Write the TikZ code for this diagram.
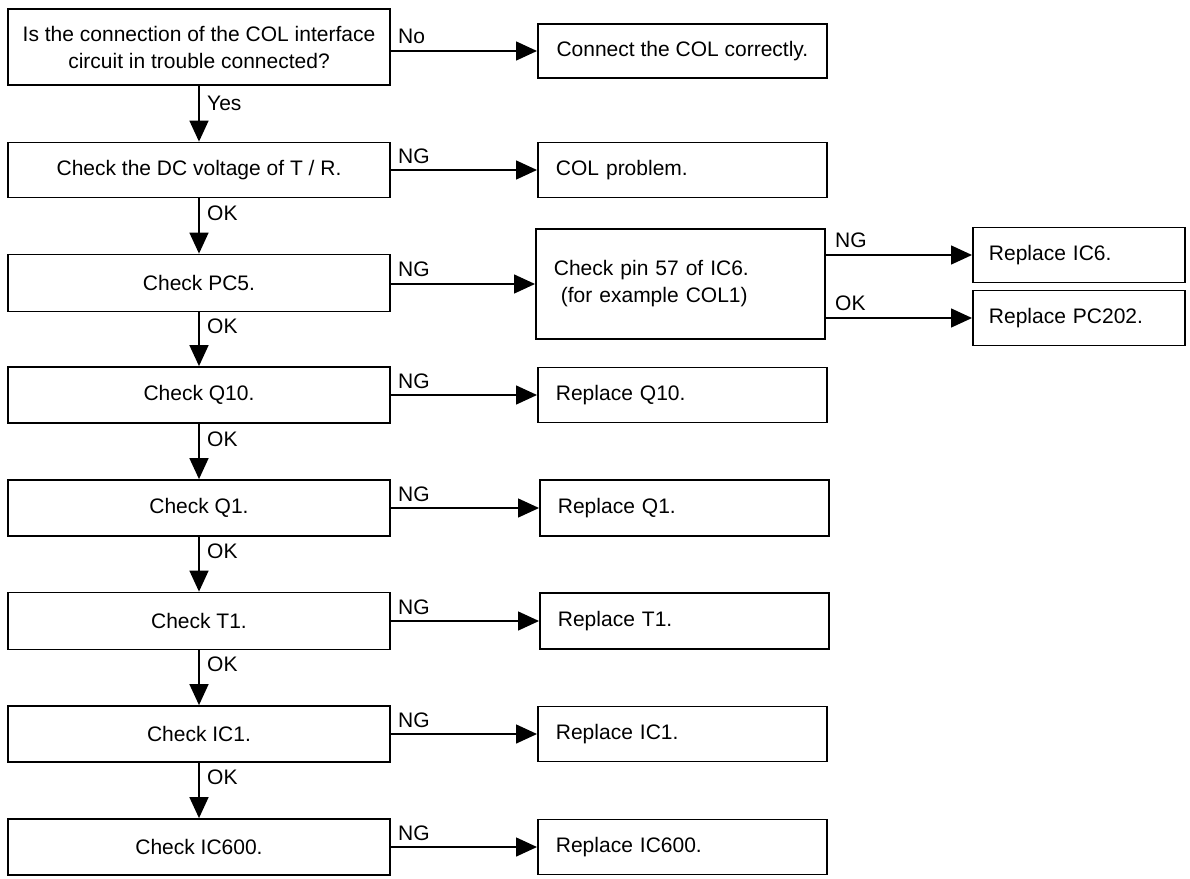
\documentclass[tikz,border=0pt]{standalone}
\usepackage{fontspec}
\setmainfont{Liberation Sans}
\usetikzlibrary{arrows.meta}
\tikzset{
  every node/.style={font=\fontsize{21}{27}\selectfont},
  cbox/.style={draw, line width=1.8pt, inner sep=0pt, align=center, minimum width=382pt},
  rbox/.style={draw, line width=1.8pt, inner ysep=0pt, inner xsep=18pt, align=left, text width=253pt, anchor=west},
  mbox/.style={draw, line width=1.8pt, inner sep=0pt, align=center, minimum width=289pt, anchor=west},
  fbox/.style={draw, line width=1.8pt, inner ysep=0pt, inner xsep=16pt, align=left, text width=180pt, anchor=west},
  arr/.style={line width=1.5pt, -{Triangle[length=21pt,width=19pt]}},
  hlbl/.style={inner sep=0pt, anchor=base west},
  vlbl/.style={inner sep=0pt, anchor=west}
}
\begin{document}
\begin{tikzpicture}[x=1pt,y=-1pt]
\useasboundingbox[fill=white] (0,0) rectangle (1190,878);
% left column
\node[cbox, minimum height=76pt] (b1) at (199,47) {Is the connection of the COL interface\\circuit in trouble connected?};
\node[cbox, minimum height=55pt] (b2) at (199,170) {Check the DC voltage of T / R.};
\node[cbox, minimum height=57pt] (b3) at (199,283) {Check PC5.};
\node[cbox, minimum height=56pt] (b4) at (199,395) {Check Q10.};
\node[cbox, minimum height=56pt] (b5) at (199,508) {Check Q1.};
\node[cbox, minimum height=57pt] (b6) at (199,621) {Check T1.};
\node[cbox, minimum height=56pt] (b7) at (199,734) {Check IC1.};
\node[cbox, minimum height=56pt] (b8) at (199,847) {Check IC600.};
% right column
\node[mbox, minimum height=54pt] (r1) at (537,51) {Connect the COL correctly.};
\node[rbox, minimum height=55pt] (r2) at (537,170) {COL problem.};
\node[rbox, minimum height=110pt, inner xsep=18pt] (r3) at (535,284) {Check pin 57 of IC6.\\\ (for example COL1)};
\node[rbox, minimum height=55pt] (r4) at (537,395) {Replace Q10.};
\node[rbox, minimum height=56pt] (r5) at (539,508) {Replace Q1.};
\node[rbox, minimum height=56pt] (r6) at (539,621) {Replace T1.};
\node[rbox, minimum height=55pt] (r7) at (537,734) {Replace IC1.};
\node[rbox, minimum height=55pt] (r8) at (537,847) {Replace IC600.};
% far right
\node[fbox, minimum height=55pt] (f1) at (972,255) {Replace IC6.};
\node[fbox, minimum height=55pt] (f2) at (972,318) {Replace PC202.};
% vertical connectors
\draw[arr] (b1) -- (b2);
\draw[arr] (b2) -- (b3);
\draw[arr] (b3) -- (b4);
\draw[arr] (b4) -- (b5);
\draw[arr] (b5) -- (b6);
\draw[arr] (b6) -- (b7);
\draw[arr] (b7) -- (b8);
% horizontal connectors
\draw[arr] (b1.east |- r1.west) -- (r1.west);
\draw[arr] (b2) -- (r2);
\draw[arr] (b3.east |- r3.west) -- (r3.west);
\draw[arr] (b4) -- (r4);
\draw[arr] (b5) -- (r5);
\draw[arr] (b6) -- (r6);
\draw[arr] (b7) -- (r7);
\draw[arr] (b8) -- (r8);
\draw[arr] (r3.east |- f1.west) -- (f1.west);
\draw[arr] (r3.east |- f2.west) -- (f2.west);
% horizontal labels
\node[hlbl] (l1) at (398,43) {No};
\node[hlbl] (l2) at (398,163) {NG};
\node[hlbl] (l3) at (398,276) {NG};
\node[hlbl] (l4) at (398,388) {NG};
\node[hlbl] (l5) at (398,501) {NG};
\node[hlbl] (l6) at (398,614) {NG};
\node[hlbl] (l7) at (398,727) {NG};
\node[hlbl] (l8) at (398,840) {NG};
\node[hlbl] (l9) at (835,247) {NG};
\node[hlbl] (l10) at (835,310) {OK};
% vertical labels
\node[vlbl] (v1) at (207,103) {Yes};
\node[vlbl] (v2) at (207,213) {OK};
\node[vlbl] (v3) at (207,326) {OK};
\node[vlbl] (v4) at (207,439) {OK};
\node[vlbl] (v5) at (207,551) {OK};
\node[vlbl] (v6) at (207,664) {OK};
\node[vlbl] (v7) at (207,777) {OK};
\end{tikzpicture}
\end{document}
